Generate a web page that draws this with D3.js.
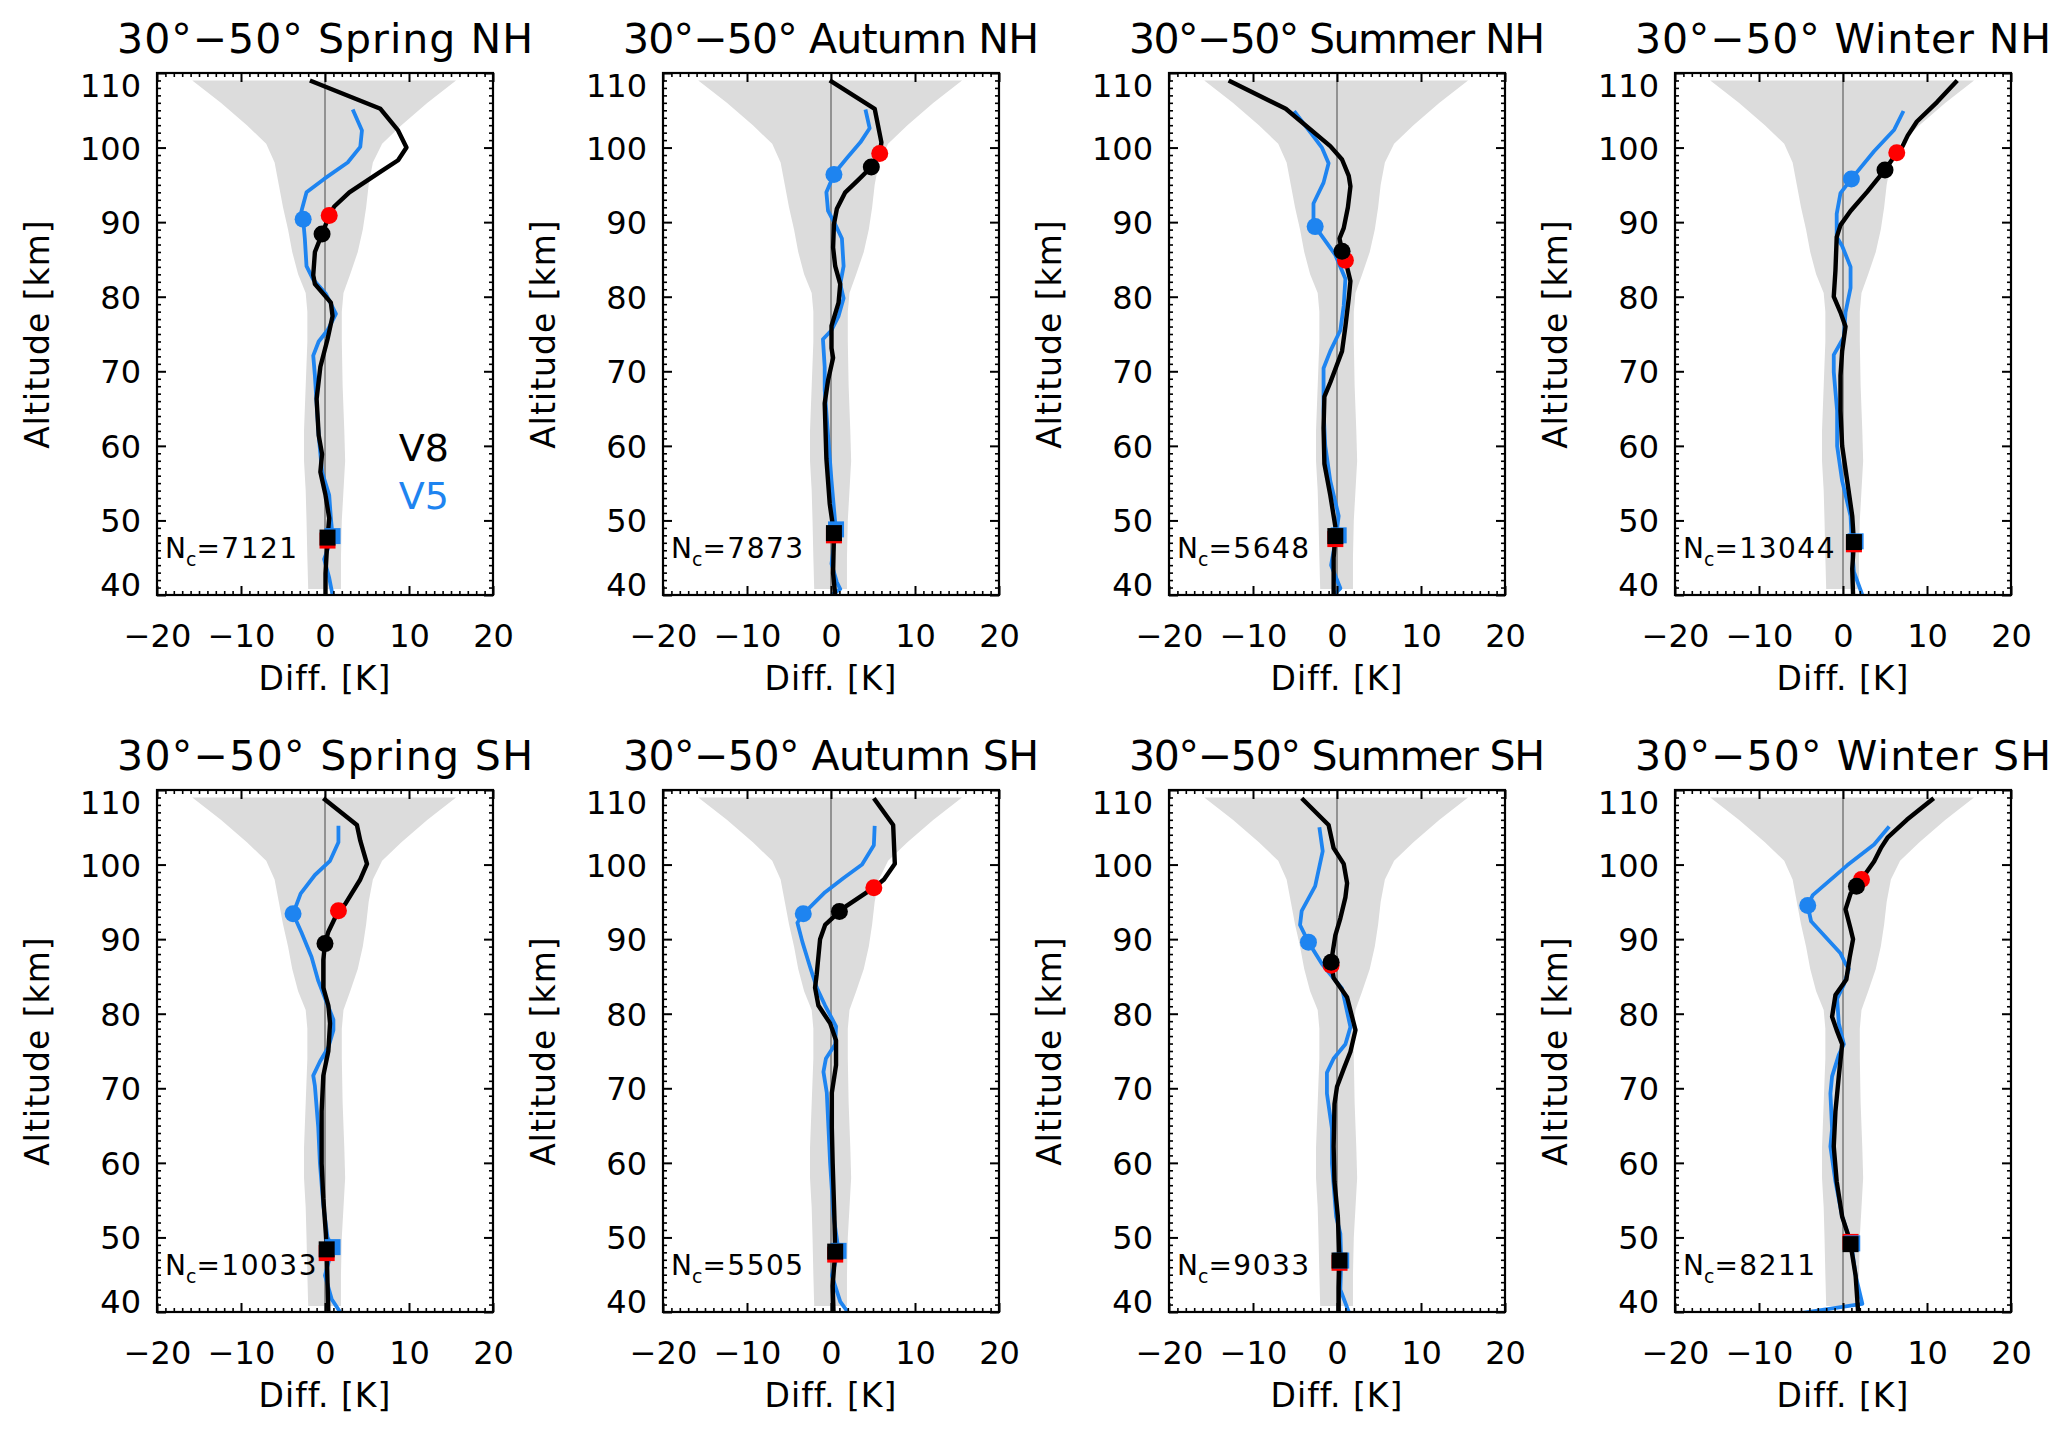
<!DOCTYPE html>
<html><head><meta charset="utf-8">
<script src="https://cdn.jsdelivr.net/npm/d3@7"></script>
<style>body{margin:0;background:#fff} text{font-family:"DejaVu Sans",sans-serif;fill:#000}</style>
</head><body><svg id="c" width="2067" height="1436"></svg>
<script>
// ---------- data ----------
const titles = ["30°−50° Spring NH","30°−50° Autumn NH","30°−50° Summer NH","30°−50° Winter NH",
                "30°−50° Spring SH","30°−50° Autumn SH","30°−50° Summer SH","30°−50° Winter SH"];
const ncValues = ["7121","7873","5648","13044","10033","5505","9033","8211"];
const xTicks = [-20,-10,0,10,20];
const yTicks = [40,50,60,70,80,90,100,110];

// shared grey envelope: altitude, lower and upper bound [K]
const envAlt = [109,106,103,100.5,98,95,92,89,86,83,80.5,78,74,68,62,58,54,50,45,40.8];
const envLo  = [-15.8,-12.4,-9.3,-7.0,-6.0,-5.5,-5.0,-4.4,-3.9,-3.2,-2.3,-2.1,-2.1,-2.3,-2.5,-2.5,-2.3,-2.2,-2.1,-2.0];
const envHi  = [15.6,12.2,9.1,6.8,5.7,5.2,4.9,4.5,3.9,3.0,2.2,2.0,2.0,2.1,2.3,2.4,2.2,2.0,1.9,1.9];

// profiles: [diff K, altitude km]
const v8SpringNH = [[-1.8,109],[6.6,105.2],[8.7,102.3],[9.7,100],[8.7,98.3],[6.4,96.6],[2.9,94],[1.1,92.1],[0.5,90.9],[-0.35,88.4],[-1.2,86],[-1.4,82.9],[-1.2,81.7],[0.7,79.2],[0.9,77.4],[0.3,74.3],[-0.55,70.6],[-1.0,66.3],[-0.75,61.4],[-0.35,58.9],[-0.55,56.5],[0.06,53.4],[0.5,50.3],[0.3,47.7],[0.06,42.9],[0.06,40]];
const v5SpringNH = [[3.3,105.1],[4.4,102.3],[4.2,100.1],[2.7,98],[-0.1,95.8],[-2.2,94],[-2.8,91.5],[-2.6,90.4],[-2.4,87.8],[-2.2,84.1],[-1.4,82.3],[0.1,80.4],[1.3,77.7],[0.3,75.5],[-0.75,74],[-1.4,72.1],[-1.2,69.4],[-1.0,65.7],[-0.75,61.4],[-0.35,56.5],[0.5,53.4],[0.7,50.3],[0.9,47.9],[-0.1,44.8],[0.5,42.3],[0.9,40]];
const v8AutumnNH = [[-0.15,109],[5.2,105.2],[6.0,100.7],[5.8,99.2],[4.8,97.4],[3.1,95.5],[1.7,94],[0.7,91.8],[0.35,89.7],[0.25,86.6],[0.5,84.1],[1.1,81.7],[0.9,79.2],[0.06,76.1],[0.06,73.1],[0.25,71.8],[-0.35,68.8],[-0.75,65.7],[-0.55,58.3],[-0.15,52.2],[0.35,48.3],[0.25,42.9],[0.5,40]];
const v5AutumnNH = [[4.1,105.1],[4.6,102.6],[3.5,100.7],[1.9,98.6],[0.5,96.7],[0.35,96.4],[-0.55,94],[-0.35,91.5],[0.5,89.7],[1.3,87.8],[1.5,84.1],[1.1,81.7],[1.5,79.8],[0.9,77.4],[0.06,75.5],[-0.96,74.3],[-0.75,70.6],[-0.75,67.5],[-0.35,61.4],[0.06,55.3],[0.5,49.7],[0.6,48.8],[0.06,44.2],[0.7,41.7],[1.1,40.8],[0.06,40]];
const v8SummerNH = [[-12.9,109],[-6.1,105.2],[-0.8,100.2],[0.6,98.4],[1.4,96.2],[1.6,94.8],[1.3,92],[0.8,89.2],[0.3,87.8],[0.6,86.1],[1.0,84.9],[1.6,82.1],[1.4,79.8],[1.0,76],[0.6,72.7],[-0.8,68.5],[-1.5,66.6],[-1.6,62.4],[-1.5,57.6],[-0.8,53.4],[-0.2,49.2],[-0.2,47.9],[-0.4,45],[-0.4,40]];
const v5SummerNH = [[-5.1,104.9],[-2.6,101.2],[-1.8,100],[-1.0,97.9],[-1.6,95.3],[-2.8,92.5],[-2.8,90.4],[-2.6,89.4],[-0.2,85.6],[1.0,82.4],[0.8,78.8],[0.4,75.5],[-0.8,72.7],[-1.6,70.4],[-1.6,64.7],[-1.4,60],[-0.8,55.3],[0.2,50.6],[-0.1,47.9],[-0.4,45.9],[-0.7,44],[0.4,40.9],[-0.4,40]];
const v8WinterNH = [[13.6,109],[11.2,106.1],[8.8,103.5],[7.7,101.6],[7.1,100.2],[6.4,99.3],[5.0,97],[2.9,94.1],[0.9,91.5],[-0.3,89.6],[-0.75,88],[-0.9,83.5],[-1.1,80],[-0.3,77.9],[0.3,76],[-0.1,72.7],[-0.3,69.4],[-0.3,64.7],[-0.1,60],[0.5,55.3],[1.1,50.6],[1.3,47.1],[1.1,43.5],[1.2,40]];
const v5WinterNH = [[7.2,104.9],[6.1,102.4],[3.7,99.5],[1.0,95.8],[-0.3,93.9],[-0.75,91.1],[-0.75,88],[-0.1,86.8],[0.9,84],[0.9,81.2],[0.3,77.9],[0.1,74.6],[-1.1,72.2],[-1.1,69.9],[-0.7,64.7],[-0.7,60],[-0.1,55.3],[0.9,50.6],[1.1,45.9],[1.3,43.1],[2.3,40]];
const v8SpringSH = [[-0.2,108.9],[3.8,105.3],[4.2,103.2],[5.0,100.1],[4.2,98],[2.4,94.7],[1.6,93.8],[0.4,91],[0,89.4],[-0.2,87.2],[-0.2,83.5],[0.4,81.1],[0.6,78.7],[0.4,75],[-0.2,71.7],[-0.4,66.9],[-0.4,59.9],[-0.2,55.2],[0.1,50.5],[0.2,48.4],[0.3,43.9],[0.4,40]];
const v5SpringSH = [[1.6,105.2],[1.6,103],[0.6,100.5],[-1.2,98.6],[-2.9,96.1],[-3.8,93.4],[-2.8,90.9],[-1.6,87.6],[-0.8,84.4],[0.2,81.5],[1.0,79.2],[1.0,77.8],[0.4,75.5],[-0.6,73.6],[-1.4,71.7],[-1.2,70.3],[-0.8,64.7],[-0.6,59.9],[-0.2,54.3],[0.3,50],[0.9,48.7],[0,44.9],[0.8,41.7],[1.8,40]];
const v8AutumnSH = [[5.1,108.9],[7.4,105.3],[7.6,100.1],[6.3,98],[5.1,96.9],[1.9,94.5],[1.0,93.7],[-0.7,91.9],[-1.3,90],[-1.7,85.3],[-1.9,83.5],[-1.5,81.1],[-0.1,78.7],[0.6,76.4],[0.6,73.1],[0.1,69.4],[0.1,64.7],[0.2,59.9],[0.4,52.9],[0.5,48.1],[0.2,43.5],[0.3,40]];
const v5AutumnSH = [[5.2,105.2],[5.1,102.6],[3.7,100],[1.5,98.2],[-0.7,96.3],[-3.3,93.4],[-4.0,92.2],[-3.4,89.6],[-2.5,86.3],[-1.7,83.5],[-0.7,81.1],[0.6,78.3],[0.5,75.9],[-0.6,74],[-0.9,72.2],[-0.5,69.4],[-0.3,64.7],[-0.1,59.9],[0.3,52.9],[0.9,48.2],[0.1,44.9],[1.1,41.4],[2.0,40]];
const v8SummerSH = [[-4.2,108.9],[-1.0,105.3],[-0.4,102.2],[0.8,100.1],[1.2,97.5],[1.0,95.6],[0.4,92.8],[-0.2,90.5],[-0.7,86.9],[-0.4,84.8],[1.2,82.2],[2.2,77.8],[1.6,74.9],[0.8,72.6],[0,70.2],[-0.3,67.9],[-0.4,62.2],[-0.3,57.5],[0.1,52.8],[0.3,46.9],[0.2,43.3],[0.2,40]];
const v5SummerSH = [[-2.1,105],[-1.7,101.8],[-2.6,97.1],[-4.2,93.8],[-4.4,91.9],[-3.4,89.6],[-1.8,86.7],[-0.8,85.3],[0.6,83.4],[1.6,78.2],[1.0,75.9],[-0.4,74],[-1.2,72.1],[-1.2,69.3],[-0.6,64.6],[-0.6,59.9],[-0.1,52.8],[0.4,50.5],[0.5,46.9],[0.4,43],[1.4,40]];
const v8WinterSH = [[10.8,108.9],[7.6,106],[5.3,103.6],[4.5,102.2],[3.7,100.4],[2.5,98.5],[2.2,98],[1.6,97.1],[0.9,96.1],[0.3,94],[0.9,91.4],[1.2,90],[0.8,87.6],[0.4,84.6],[-0.9,82.5],[-1.3,79.6],[-0.75,77.8],[-0.1,75.9],[-0.5,71.6],[-0.9,66.9],[-1.1,62.2],[-0.75,57.5],[-0.1,52.8],[0.7,50],[0.9,49.1],[1.5,44.9],[1.8,40]];
const v5WinterSH = [[5.5,105.1],[3.7,102.7],[0.5,99.9],[-3.6,95.9],[-4.2,94.5],[-3.8,92.4],[-0.3,88.1],[0.3,86.7],[0.7,86],[0.1,83.9],[-0.7,82],[-0.5,78.7],[0.1,75.9],[-0.5,74.5],[-1.3,71.6],[-1.5,69.3],[-1.3,64.6],[-1.5,62.2],[-0.9,57.5],[-0.1,52.8],[1.0,49.1],[1.5,44.9],[2.3,41.1],[-5.0,39.85]];

// markers [diff, alt]
const blueCircles  = [[-2.6,90.4],[0.35,96.4],[-2.6,89.4],[1.0,95.8],[-3.8,93.4],[-3.3,93.4],[-3.4,89.6],[-4.2,94.5]];
const redCircles   = [[0.5,90.9],[5.8,99.2],[1.0,84.9],[6.4,99.3],[1.6,93.8],[5.1,96.9],[-0.7,86.5],[2.2,98.0]];
const blackCircles = [[-0.35,88.4],[4.8,97.4],[0.6,86.1],[5.0,97.0],[0,89.4],[1.0,93.7],[-0.7,86.9],[1.6,97.1]];
const redSquares   = [[0.3,47.3],[0.35,48.0],[-0.2,47.5],[1.3,46.8],[0.2,47.9],[0.5,47.7],[0.3,46.6],[0.9,49.4]];
const blueSquares  = [[0.9,47.9],[0.6,48.8],[0.2,48.0],[1.5,47.2],[0.9,48.7],[0.9,48.2],[0.5,46.9],[1.1,49.2]];
const blackSquares = [[0.3,47.7],[0.35,48.3],[-0.2,47.9],[1.3,47.1],[0.2,48.4],[0.5,48.1],[0.3,46.9],[0.9,49.1]];

const v8Profiles = [v8SpringNH,v8AutumnNH,v8SummerNH,v8WinterNH,v8SpringSH,v8AutumnSH,v8SummerSH,v8WinterSH];
const v5Profiles = [v5SpringNH,v5AutumnNH,v5SummerNH,v5WinterNH,v5SpringSH,v5AutumnSH,v5SummerSH,v5WinterSH];

// ---------- drawing ----------
const BLUE = "#1e84f0", RED = "#ff0000", GREY = "#dcdcdc";
const colX = [157,663,1169,1675], rowY = [73,790], PW = 336, PH = 522;
const svg = d3.select("#c");
const envData = envAlt.map((a,i)=>({alt:a, lo:envLo[i], hi:envHi[i]}));

titles.forEach((title,i)=>{
  const ox = colX[i%4], oy = rowY[Math.floor(i/4)];
  const x = d3.scaleLinear().domain([-20,20]).range([0,PW]);
  const y = d3.scaleLinear().domain([40,110]).range([PH,0]);
  const g = svg.append("g").attr("transform",`translate(${ox},${oy})`);
  const cid = "clip"+i;
  g.append("clipPath").attr("id",cid).append("rect").attr("width",PW).attr("height",PH);
  const pg = g.append("g").attr("clip-path",`url(#${cid})`);

  // envelope
  pg.append("path").datum(envData)
    .attr("d", d3.area().y(d=>y(d.alt)).x0(d=>x(d.lo)).x1(d=>x(d.hi)))
    .attr("fill",GREY);
  // zero line
  pg.append("line").attr("x1",x(0)).attr("x2",x(0)).attr("y1",0).attr("y2",PH)
    .attr("stroke","#7a7a7a").attr("stroke-width",1.5);
  const line = d3.line().x(d=>x(d[0])).y(d=>y(d[1]));
  pg.append("path").datum(v5Profiles[i]).attr("d",line).attr("fill","none")
    .attr("stroke",BLUE).attr("stroke-width",3.8).attr("stroke-linejoin","round");
  pg.append("path").datum(v8Profiles[i]).attr("d",line).attr("fill","none")
    .attr("stroke","#000").attr("stroke-width",4.4).attr("stroke-linejoin","round");
  const sq = 16;
  [[redSquares,RED],[blueSquares,BLUE],[blackSquares,"#000"]].forEach(([arr,col])=>{
    pg.append("rect").attr("x",x(arr[i][0])-sq/2).attr("y",y(arr[i][1])-sq/2)
      .attr("width",sq).attr("height",sq).attr("fill",col);
  });
  [[blueCircles,BLUE],[redCircles,RED],[blackCircles,"#000"]].forEach(([arr,col])=>{
    pg.append("circle").attr("cx",x(arr[i][0])).attr("cy",y(arr[i][1])).attr("r",8.5).attr("fill",col);
  });

  // axes: inward ticks
  const minorX = d3.range(-20,21,1).filter(v=>v%10!==0);
  const minorY = d3.range(40,111,1).filter(v=>v%10!==0);
  const axes = [
    [d3.axisBottom(x), `translate(0,${PH})`, xTicks, minorX, true],
    [d3.axisTop(x), `translate(0,0)`, xTicks, minorX, false],
    [d3.axisLeft(y), `translate(0,0)`, yTicks, minorY, true],
    [d3.axisRight(y), `translate(${PW},0)`, yTicks, minorY, false]
  ];
  axes.forEach(([ax,tr,maj,min,lab],k)=>{
    const a1 = g.append("g").attr("transform",tr)
      .call(ax.tickValues(min).tickSize(-4).tickFormat(""));
    a1.select(".domain").remove();
    a1.selectAll("line").attr("stroke","#000").attr("stroke-width",1.6);
    const a2 = g.append("g").attr("transform",tr)
      .call(ax.tickValues(maj).tickSize(-9).tickPadding(k===0?29:16)
        .tickFormat(lab ? (d=>String(d).replace("-","−")) : ""));
    a2.select(".domain").remove();
    a2.selectAll("line").attr("stroke","#000").attr("stroke-width",2);
    a2.selectAll("text").attr("font-size",32).attr("font-family","DejaVu Sans").attr("fill","#000");
    if (k===2) {
      a2.selectAll(".tick text").attr("dy",d=> d===110 ? "0.74em" : (d===40 ? "0.0em" : "0.36em"));
    }
  });
  // box
  g.append("rect").attr("width",PW).attr("height",PH).attr("fill","none")
    .attr("stroke","#000").attr("stroke-width",2.2);

  // titles and labels
  g.append("text").attr("x",PW/2).attr("y",-20).attr("text-anchor","middle")
    .attr("font-size",41).attr("textLength",416).attr("lengthAdjust","spacing").text(title);
  g.append("text").attr("x",PW/2).attr("y",617).attr("text-anchor","middle")
    .attr("font-size",33).attr("letter-spacing",1).text("Diff. [K]");
  g.append("text").attr("transform",`translate(-108,${PH/2}) rotate(-90)`).attr("text-anchor","middle")
    .attr("font-size",33).attr("letter-spacing",1).text("Altitude [km]");
  const nc = g.append("text").attr("x",8).attr("y",485).attr("font-size",28);
  nc.append("tspan").text("N");
  nc.append("tspan").attr("dy",8).attr("font-size",19).text("c");
  nc.append("tspan").attr("dy",-8).attr("letter-spacing",1.5).text("="+ncValues[i]);

  if (i===0) {
    g.append("text").attr("x",292).attr("y",388).attr("text-anchor","end").attr("font-size",38).text("V8");
    g.append("text").attr("x",292).attr("y",436).attr("text-anchor","end").attr("font-size",38)
      .style("fill",BLUE).text("V5");
  }
});
</script></body></html>
